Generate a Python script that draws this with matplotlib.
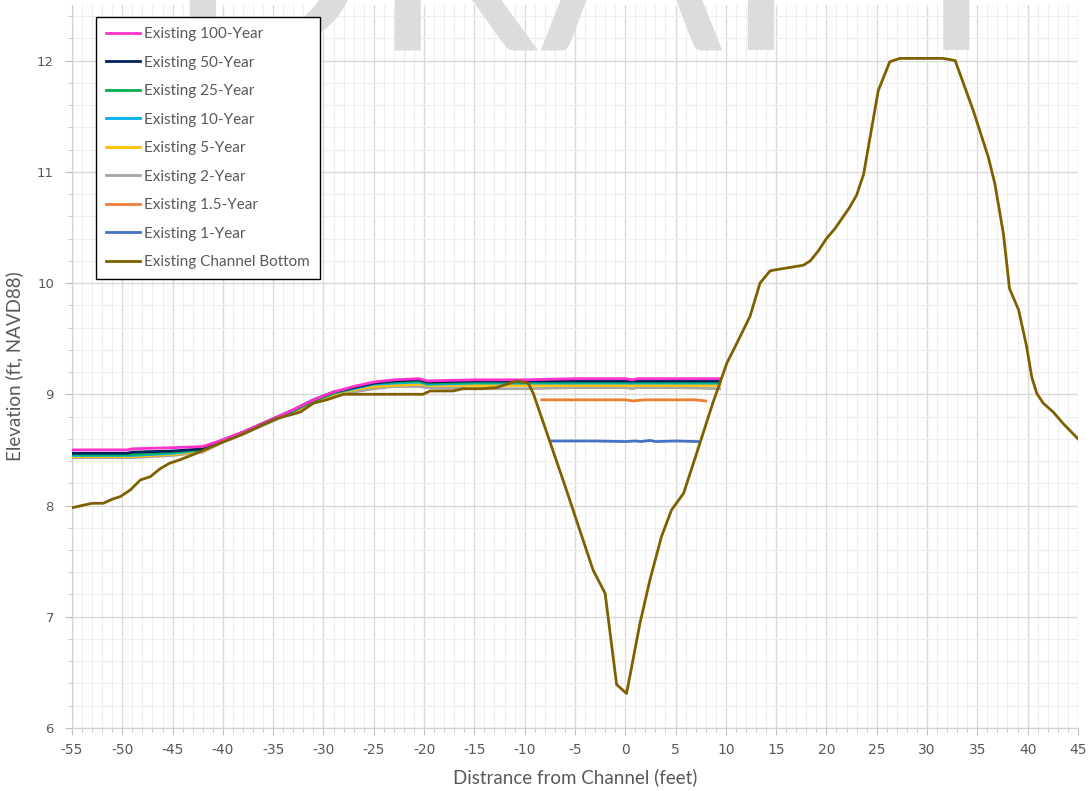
import matplotlib
matplotlib.use("Agg")
import matplotlib.pyplot as plt
from matplotlib.ticker import MultipleLocator

plt.rcParams['axes.unicode_minus'] = False

# channel bottom profile
cb_x = [-55, -53, -51.9, -50.9, -50.2, -49.2, -48.2, -47.2, -46.25, -45.3, -44.3, -42.9, -41.6,
        -40.3, -38.6, -37.6, -35.7, -34.7, -32.3, -31.0, -29.7, -28.0, -20.1, -19.4, -17.1, -16.1,
        -14.4, -12.8, -11.5, -10.8, -9.65, -9.15, -6.0, -3.2, -2.0, -0.86, 0.13, 1.46, 2.45, 3.6,
        4.6, 5.8, 7.1, 8.7, 10.1, 11.1, 12.4, 13.4, 14.4, 15.0, 17.7, 18.4, 19.2, 20.0, 20.85,
        22.3, 23.0, 23.7, 25.15, 26.3, 27.3, 31.6, 32.8, 34.6, 36.1, 36.75, 37.6, 38.2, 39.1,
        39.9, 40.4, 40.9, 41.55, 42.55, 43.5, 45.0]
cb_y = [7.98, 8.02, 8.02, 8.06, 8.08, 8.14, 8.23, 8.26, 8.33, 8.38, 8.41, 8.46, 8.51,
        8.56, 8.62, 8.66, 8.74, 8.78, 8.84, 8.92, 8.95, 9.0, 9.0, 9.03, 9.03, 9.05,
        9.05, 9.06, 9.10, 9.12, 9.10, 9.01, 8.18, 7.42, 7.21, 6.39, 6.31, 6.94, 7.33, 7.72,
        7.96, 8.11, 8.47, 8.92, 9.28, 9.46, 9.70, 10.0, 10.11, 10.12, 10.16, 10.2, 10.29, 10.40, 10.49,
        10.68, 10.79, 10.98, 11.73, 11.99, 12.02, 12.02, 12.0, 11.55, 11.13, 10.89, 10.44, 9.95, 9.76,
        9.43, 9.16, 9.01, 8.92, 8.84, 8.74, 8.60]

# water surfaces (shared stations)
ws_x = [-55, -49.5, -49, -45, -42, -40, -38, -35, -33, -31, -29, -27, -25, -23, -20.5, -19.7,
        -15, -10, -5, 0, 0.7, 1.2, 5, 9.4]
y100 = [8.50, 8.50, 8.51, 8.52, 8.53, 8.59, 8.66, 8.78, 8.86, 8.95, 9.02, 9.07, 9.11, 9.13, 9.14, 9.12,
        9.13, 9.13, 9.14, 9.14, 9.13, 9.14, 9.14, 9.14]
y50 = [8.47, 8.47, 8.48, 8.49, 8.51, 8.59, 8.66, 8.78, 8.86, 8.95, 9.02, 9.06, 9.10, 9.12, 9.13, 9.11,
       9.12, 9.12, 9.12, 9.12, 9.12, 9.12, 9.12, 9.12]
y25 = [8.46, 8.46, 8.46, 8.48, 8.50, 8.58, 8.65, 8.77, 8.85, 8.94, 9.01, 9.06, 9.10, 9.11, 9.12, 9.10,
       9.11, 9.11, 9.11, 9.11, 9.11, 9.11, 9.11, 9.11]
y10 = [8.45, 8.45, 8.45, 8.47, 8.50, 8.58, 8.65, 8.77, 8.85, 8.94, 9.01, 9.05, 9.09, 9.10, 9.11, 9.09,
       9.10, 9.10, 9.10, 9.10, 9.10, 9.10, 9.10, 9.10]
y5 = [8.44, 8.44, 8.44, 8.46, 8.49, 8.58, 8.65, 8.77, 8.84, 8.93, 9.00, 9.04, 9.07, 9.08, 9.09, 9.08,
      9.08, 9.08, 9.08, 9.08, 9.08, 9.08, 9.08, 9.08]
y2 = [8.43, 8.43, 8.43, 8.45, 8.48, 8.57, 8.64, 8.76, 8.84, 8.92, 8.99, 9.02, 9.05, 9.07, 9.07, 9.06,
      9.05, 9.05, 9.06, 9.06, 9.05, 9.06, 9.06, 9.05]

x15 = [-8.3, -5, 0, 0.8, 1.3, 2, 5, 7, 8.0]
y15 = [8.95, 8.95, 8.95, 8.94, 8.945, 8.95, 8.95, 8.95, 8.94]
x1 = [-7.3, -3, 0, 1.0, 1.5, 2.5, 3, 5, 7.25]
y1 = [8.58, 8.58, 8.575, 8.58, 8.575, 8.585, 8.575, 8.58, 8.575]

labels = ['Existing 100-Year', 'Existing 50-Year', 'Existing 25-Year', 'Existing 10-Year',
          'Existing 5-Year', 'Existing 2-Year', 'Existing 1.5-Year', 'Existing 1-Year',
          'Existing Channel Bottom']
colors = ['#ff33cc', '#002060', '#00b050', '#00b0f0', '#ffc000', '#a5a5a5', '#ed7d31', '#4472c4', '#7f6000']

txt = '#595959'
fig = plt.figure(figsize=(10.91, 7.91), dpi=100)
ax = fig.add_axes([0.066, 0.0797, 0.922, 0.914])

series = [(ws_x, y100), (ws_x, y50), (ws_x, y25), (ws_x, y10), (ws_x, y5), (ws_x, y2),
          (x15, y15), (x1, y1), (cb_x, cb_y)]
zs = [8, 7, 6, 5, 4, 3, 9, 9, 10]
for (xs, ys), lab, c, z in zip(series, labels, colors, zs):
    ax.plot(xs, ys, color=c, lw=2.0, label=lab, zorder=z)

ax.set_xlim(-55, 45)
ax.set_ylim(6, 12.5)
ax.xaxis.set_major_locator(MultipleLocator(5))
ax.xaxis.set_minor_locator(MultipleLocator(1))
ax.yaxis.set_major_locator(MultipleLocator(1))
ax.yaxis.set_minor_locator(MultipleLocator(0.2))
ax.grid(which='major', color='#d9d9d9', lw=1.0, zorder=0)
ax.grid(which='minor', color='#eeeeee', lw=0.8, zorder=0)
ax.set_axisbelow(True)

for s in ['top', 'right']:
    ax.spines[s].set_visible(False)
for s in ['left', 'bottom']:
    ax.spines[s].set_color('#d0d0d0')

ax.tick_params(which='both', colors='#bfbfbf', labelcolor=txt)
ax.tick_params(which='major', length=5)
ax.tick_params(which='minor', length=3)
ax.tick_params(axis='x', labelsize=10, pad=6)
ax.tick_params(axis='y', labelsize=9.5, pad=8)
for t in ax.get_xticklabels():
    t.set_family(['Liberation Sans Narrow', 'DejaVu Sans'])
for t in ax.get_yticklabels():
    t.set_family(['DejaVu Sans'])

ax.set_xlabel('Distrance from Channel (feet)', fontsize=13.5, color=txt, family='Lato', labelpad=8)
ax.set_ylabel('Elevation (ft, NAVD88)', fontsize=13.5, color=txt, family='Lato', labelpad=10)

# faint watermark at the top edge
ax.text(0.55, 1 - 50 / 791, 'DRAFT', transform=fig.transFigure, ha='center', va='baseline',
        fontsize=195, color='#dcdcdc', family='Lato', zorder=11, clip_on=False)

leg = ax.legend(loc='upper left', bbox_to_anchor=(0.0239, 0.983), borderaxespad=0,
                fancybox=False, edgecolor='black', framealpha=1,
                handlelength=2.2, handletextpad=0.3, labelspacing=0.95, borderpad=0.65,
                prop={'family': 'Lato', 'size': 11})
leg.get_frame().set_linewidth(1.0)
leg.set_zorder(20)
for t in leg.get_texts():
    t.set_color(txt)

fig.savefig('out.png', dpi=100)
